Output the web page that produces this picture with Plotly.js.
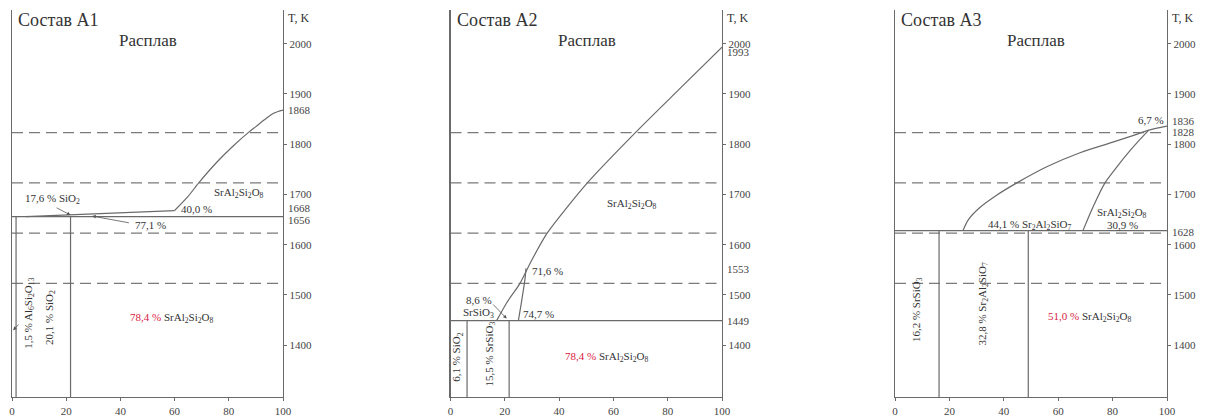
<!DOCTYPE html>
<html>
<head>
<meta charset="utf-8">
<script src="https://cdn.plot.ly/plotly-3.0.1.min.js"></script>
<style>html,body{margin:0;padding:0;background:#fff;}#chart{width:1210px;height:416px;}</style>
</head>
<body>
<div id="chart"></div>
<script>
// ---------- data ----------
const X_TICKS = [0, 20, 40, 60, 80, 100];
const Y_TICKS = [1400, 1500, 1600, 1700, 1800, 1900, 2000];
const T_RANGE = [1297, 2067];
const DASHED_T = [1523, 1623, 1723, 1823];

// Panel A1
const A1_EUTECTIC_T = 1656;
const A1_SLOPE_X = [5, 60];
const A1_SLOPE_T = [1656, 1668];
const A1_LIQ_X = [60, 64.8, 68.9, 75.9, 81.9, 87.4, 90, 93, 96.7, 100];
const A1_LIQ_T = [1668, 1695, 1723, 1766, 1798, 1824, 1835, 1848, 1862, 1868];
const A1_VERT_X = [1.5, 21.6];
const A1_SPECIAL_T = [1868, 1668, 1656];

// Panel A2
const A2_EUTECTIC_T = 1449;
const A2_LIQ_X = [17, 21, 25.6, 30, 35.6, 50.4, 68.1, 84, 100];
const A2_LIQ_T = [1449, 1487, 1523, 1570, 1623, 1723, 1823, 1908, 1993];
const A2_CURVE_X = [27.8, 27.4, 26.7, 25.9, 25.0];
const A2_CURVE_T = [1553, 1530, 1505, 1478, 1449];
const A2_VERT_X = [6.1, 21.6];
const A2_SPECIAL_T = [1993, 1553, 1449];

// Panel A3
const A3_EUTECTIC_T = 1628;
const A3_L1_X = [25, 27, 31.2, 37.5, 44.8, 55.8, 68, 80.1, 88, 93.3, 100];
const A3_L1_T = [1628, 1650, 1674, 1699, 1723, 1755, 1783, 1804, 1818, 1828, 1836];
const A3_L2_X = [69.1, 72.8, 77.2, 81.6, 86.4, 90, 93.3];
const A3_L2_T = [1628, 1675, 1723, 1755, 1787, 1809, 1828];
const A3_VERT_X = [16.2, 49.0];
const A3_SPECIAL_T = [1836, 1828, 1628];

// ---------- styles ----------
const LINE_C = '#6a6a6a';
const TEXT_C = '#333333';
const RED = '#d9203f';
const FONT = '"Liberation Serif", "Times New Roman", serif';

const traces = [];
function line(ax, xs, ys, extra) {
  traces.push(Object.assign({
    type: 'scatter', mode: 'lines', x: xs, y: ys,
    xaxis: 'x' + ax, yaxis: 'y' + ax, hoverinfo: 'skip',
    line: {color: LINE_C, width: 1.2}
  }, extra || {}));
}
const AX = ['', '2', '3'];
AX.forEach(ax => {
  DASHED_T.forEach(t => line(ax, [0, 100], [t, t], {line: {color: '#7a7a7a', width: 1.2, dash: '11px,6px'}}));
});
const SPL = s => ({color: LINE_C, width: 1.2, shape: 'spline', smoothing: s});

// A1
line('', [0, 100], [A1_EUTECTIC_T, A1_EUTECTIC_T]);
line('', A1_SLOPE_X, A1_SLOPE_T);
line('', A1_LIQ_X, A1_LIQ_T, {line: SPL(0.8)});
A1_VERT_X.forEach(x => line('', [x, x], [T_RANGE[0], A1_EUTECTIC_T]));
// A2
line('2', [0, 100], [A2_EUTECTIC_T, A2_EUTECTIC_T]);
line('2', A2_LIQ_X, A2_LIQ_T, {line: SPL(0.7)});
line('2', A2_CURVE_X, A2_CURVE_T, {line: SPL(0.8)});
A2_VERT_X.forEach(x => line('2', [x, x], [T_RANGE[0], A2_EUTECTIC_T]));
// A3
line('3', [0, 100], [A3_EUTECTIC_T, A3_EUTECTIC_T]);
line('3', A3_L1_X, A3_L1_T, {line: SPL(0.9)});
line('3', A3_L2_X, A3_L2_T, {line: SPL(0.8)});
A3_VERT_X.forEach(x => line('3', [x, x], [T_RANGE[0], A3_EUTECTIC_T]));

// ---------- annotations ----------
const ann = [];
function txt(ax, x, y, text, o) {
  ann.push(Object.assign({
    xref: 'x' + ax, yref: 'y' + ax, x: x, y: y, text: text, showarrow: false,
    font: {family: FONT, size: 11, color: TEXT_C}
  }, o || {}));
}
function arrow(ax, x, y, tx, ty) {
  ann.push({xref: 'x' + ax, yref: 'y' + ax, axref: 'x' + ax, ayref: 'y' + ax,
    x: x, y: y, ax: tx, ay: ty, text: '', showarrow: true,
    arrowhead: 2, arrowsize: 0.9, arrowwidth: 0.8, arrowcolor: '#555'});
}
const SAS = 'SrAl<sub>2</sub>Si<sub>2</sub>O<sub>8</sub>';
const titles = ['Состав А1', 'Состав А2', 'Состав А3'];
AX.forEach((ax, i) => {
  txt(ax, 1.5, 2047, titles[i], {xanchor: 'left', font: {family: FONT, size: 18, color: TEXT_C}});
  txt(ax, [50, 50.4, 51.8][i], 2007, 'Расплав', {font: {family: FONT, size: 17, color: TEXT_C}});
  txt(ax, 100, 2051, 'T, K', {xanchor: 'left', xshift: 3, font: {family: FONT, size: 12, color: TEXT_C}});
});
function special(ax, vals, shifts) {
  vals.forEach((v, k) => txt(ax, 100, v, String(v), {xanchor: 'left', xshift: 3, yshift: shifts[k], font: {family: FONT, size: 11, color: '#444'}}));
}
special('', A1_SPECIAL_T, [0, 3, -3]);
special('2', A2_SPECIAL_T, [-5, -1, 0]);
special('3', A3_SPECIAL_T, [5, -2, -1]);

// A1 labels
txt('', 14.9, 1690, '17,6 % SiO<sub>2</sub>');
arrow('', 21.6, 1659, 15.9, 1675);
txt('', 68, 1671, '40,0 %', {xanchor: 'center'});
txt('', 51.1, 1639, '77,1 %');
arrow('', 29.6, 1657, 43.7, 1643);
txt('', 83.7, 1702, SAS);
txt('', 6, 1463, '1,5 % Al<sub>6</sub>Si<sub>2</sub>O<sub>13</sub>', {textangle: -90});
arrow('', 0.4, 1430, 3, 1444);
txt('', 14, 1456, '20,1 % SiO<sub>2</sub>', {textangle: -90});
txt('', 59, 1454, '<span style="color:' + RED + '">78,4 %</span> ' + SAS);

// A2 labels
txt('2', 67, 1682, SAS);
txt('2', 35.9, 1547, '71,6 %');
txt('2', 10.4, 1491, '8,6 %');
txt('2', 10.4, 1464, 'SrSiO<sub>3</sub>');
arrow('2', 20.7, 1453, 15.2, 1484);
txt('2', 25.8, 1462, '74,7 %', {xanchor: 'left'});
txt('2', 2.6, 1376, '6,1 % SiO<sub>2</sub>', {textangle: -90});
txt('2', 14.4, 1383, '15,5 % SrSiO<sub>3</sub>', {textangle: -90});
txt('2', 57.8, 1376, '<span style="color:' + RED + '">78,4 %</span> ' + SAS);

// A3 labels
txt('3', 99.5, 1849, '6,7 %', {xanchor: 'right'});
txt('3', 49.6, 1639, '44,1 % Sr<sub>2</sub>Al<sub>2</sub>SiO<sub>7</sub>');
txt('3', 83.5, 1663, SAS);
txt('3', 83.5, 1639, '30,9 %');
txt('3', 8.1, 1470, '16,2 % SrSiO<sub>3</sub>', {textangle: -90});
txt('3', 32, 1483, '32,8 % Sr<sub>2</sub>Al<sub>2</sub>SiO<sub>7</sub>', {textangle: -90});
txt('3', 71.7, 1456, '<span style="color:' + RED + '">51,0 %</span> ' + SAS);

// ---------- axes ----------
const DOMAINS = [[12 / 1210, 283 / 1210], [450.5 / 1210, 722 / 1210], [895 / 1210, 1167 / 1210]];
const layout = {
  width: 1210, height: 416,
  margin: {l: 0, r: 0, t: 10, b: 19},
  paper_bgcolor: '#fff', plot_bgcolor: '#fff',
  showlegend: false,
  font: {family: FONT, color: TEXT_C},
  annotations: ann
};
AX.forEach((ax, i) => {
  layout['xaxis' + ax] = {
    domain: DOMAINS[i], range: [0, 100], tickvals: X_TICKS, ticktext: X_TICKS.map(String),
    ticks: 'outside', ticklen: 3, tickcolor: LINE_C, tickwidth: 1,
    showline: true, linecolor: LINE_C, linewidth: 1.3,
    showgrid: false, zeroline: false, anchor: 'y' + ax, fixedrange: true,
    tickfont: {family: FONT, size: 11, color: '#444'}
  };
  layout['yaxis' + ax] = {
    domain: [0, 1], range: T_RANGE, tickvals: Y_TICKS, ticktext: Y_TICKS.map(String),
    side: 'right', anchor: 'x' + ax,
    ticks: 'outside', ticklen: 3, tickcolor: LINE_C, tickwidth: 1,
    showline: true, mirror: true, linecolor: LINE_C, linewidth: 1.3,
    showgrid: false, zeroline: false, fixedrange: true,
    tickfont: {family: FONT, size: 11, color: '#444'}
  };
});

Plotly.newPlot('chart', traces, layout, {staticPlot: true, displayModeBar: false});
</script>
</body>
</html>
